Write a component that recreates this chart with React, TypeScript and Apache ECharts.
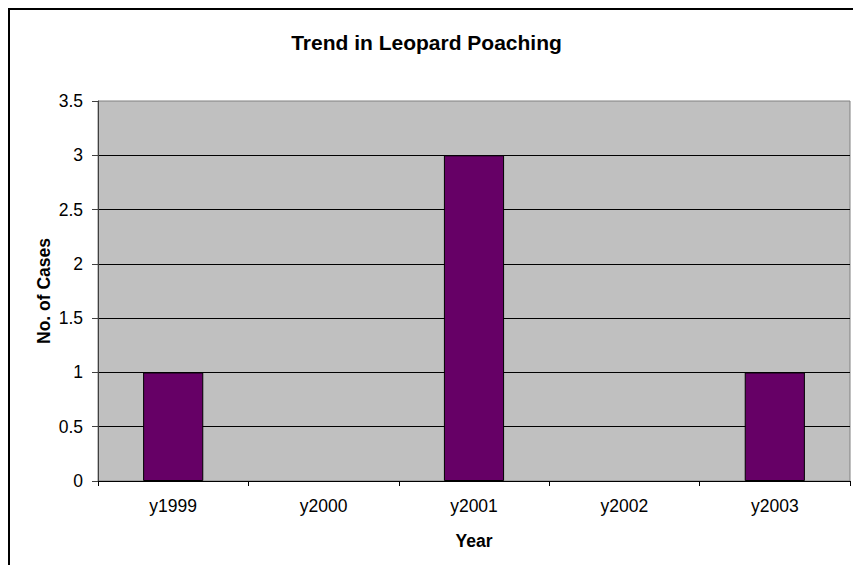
import React, { useEffect, useRef } from "react";
import * as echarts from "echarts";

const categories = ["y1999", "y2000", "y2001", "y2002", "y2003"];
const cases = [1, 0, 3, 0, 1];
const yTicks = { min: 0, max: 3.5, interval: 0.5 };
const titleText = "Trend in Leopard Poaching";
const xName = "Year";
const yName = "No. of Cases";

export default function App() {
  const ref = useRef<HTMLDivElement>(null);
  useEffect(() => {
    if (!ref.current) return;
    const chart = echarts.init(ref.current, undefined, { renderer: "svg" });
    const font = "Arial, 'Liberation Sans', sans-serif";
    chart.setOption({
      animation: false,
      backgroundColor: "#ffffff",
      title: {
        text: titleText,
        left: "center",
        top: 27,
        textStyle: { fontFamily: font, fontSize: 21, fontWeight: "bold", color: "#000" },
      },
      graphic: [
        {
          type: "rect",
          shape: { x: 9, y: 9, width: 900, height: 700 },
          style: { fill: "none", stroke: "#000", lineWidth: 2 },
          silent: true,
        },
      ],
      grid: {
        left: 98,
        top: 101,
        right: 3,
        bottom: 84,
        show: true,
        backgroundColor: "#c0c0c0",
        borderColor: "#808080",
        borderWidth: 1,
      },
      xAxis: {
        type: "category",
        data: categories,
        name: xName,
        nameLocation: "middle",
        nameGap: 51,
        nameMoveOverlap: false,
        nameTextStyle: { fontFamily: font, fontSize: 17.5, fontWeight: "bold", color: "#000" },
        axisLine: { lineStyle: { color: "#000", width: 1 } },
        axisTick: { show: true, length: 5, lineStyle: { color: "#000" } },
        axisLabel: { fontFamily: font, fontSize: 17.5, color: "#000", margin: 16 },
        splitLine: { show: false },
      },
      yAxis: {
        type: "value",
        min: yTicks.min,
        max: yTicks.max,
        interval: yTicks.interval,
        name: yName,
        nameLocation: "middle",
        nameGap: 45,
        nameMoveOverlap: false,
        nameTextStyle: { fontFamily: font, fontSize: 17.5, fontWeight: "bold", color: "#000" },
        axisLine: { show: true, lineStyle: { color: "#404040", width: 1 } },
        axisTick: { show: true, length: 6, lineStyle: { color: "#404040" } },
        axisLabel: { fontFamily: font, fontSize: 17.5, color: "#000", margin: 15 },
        splitLine: { show: true, showMaxLine: false, lineStyle: { color: "#000", width: 1 } },
      },
      series: [
        {
          type: "bar",
          data: cases.map((v) => ({
            value: v,
            itemStyle: v === 0 ? { borderWidth: 0 } : undefined,
          })),
          barCategoryGap: "60%",
          itemStyle: { color: "#660066", borderColor: "#000", borderWidth: 1 },
        },
      ],
    });
    return () => chart.dispose();
  }, []);
  return (
    <div
      ref={ref}
      style={{ position: "fixed", left: 0, top: 0, width: 853, height: 565 }}
    />
  );
}
